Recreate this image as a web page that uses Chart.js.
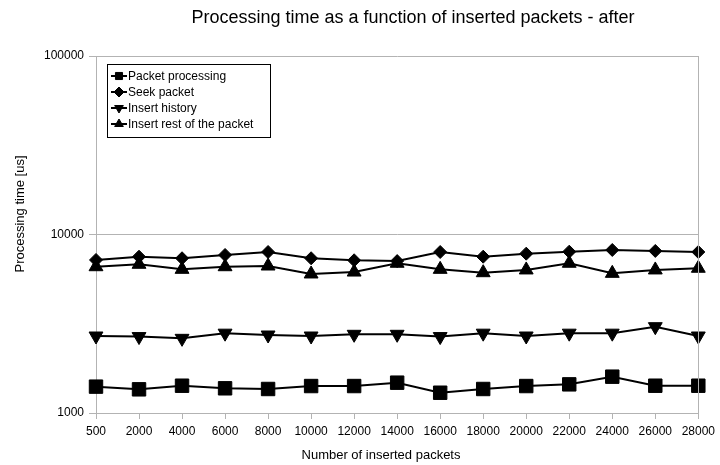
<!DOCTYPE html>
<html>
<head>
<meta charset="utf-8">
<script src="https://cdn.jsdelivr.net/npm/chart.js@4.4.0/dist/chart.umd.min.js"></script>
<style>
  html, body { margin: 0; padding: 0; background: #fff; }
</style>
</head>
<body>
<canvas id="chart" width="720" height="465"></canvas>
<script>
// values (log scale, microseconds)
const packets = ["500", "2000", "4000", "6000", "8000", "10000", "12000", "14000",
                 "16000", "18000", "20000", "22000", "24000", "26000", "28000"];
const packetProcessing = [1405, 1357, 1422, 1375, 1363, 1416, 1416, 1479, 1299, 1363, 1416, 1447, 1598, 1422, 1422];
const seekPacket = [7200, 7510, 7360, 7680, 7980, 7360, 7170, 7100, 7980, 7510, 7810, 8010, 8190, 8090, 7980];
const insertHistory = [2700, 2680, 2620, 2800, 2735, 2700, 2760, 2760, 2680, 2800, 2700, 2800, 2800, 3045, 2700];
const insertRest = [6600, 6810, 6380, 6600, 6660, 6010, 6160, 6900, 6380, 6110, 6330, 6900, 6060, 6330, 6470];
const yTicks = [1000, 10000, 100000];

const titleText = "Processing time as a function of inserted packets - after";
const xTitle = "Number of inserted packets";
const yTitle = "Processing time [us]";
const FONT = "'Liberation Sans', Arial, sans-serif";

function series(label, data, style, radius, rotation) {
  return {
    label: label,
    data: data,
    borderColor: "#000",
    backgroundColor: "#000",
    borderWidth: 2,
    pointStyle: style,
    pointRadius: radius,
    pointRotation: rotation || 0,
    pointBorderWidth: 1,
    pointHoverRadius: radius,
    tension: 0,
    fill: false,
    legendRadius: 5,
  };
}

// titles, right frame line and the boxed legend
const decorations = {
  id: "decorations",
  afterDraw(chart) {
    const ctx = chart.ctx;
    const a = chart.chartArea;
    ctx.save();

    ctx.strokeStyle = "#b3b3b3";
    ctx.lineWidth = 1;
    ctx.beginPath();
    ctx.moveTo(Math.round(a.right) + 0.5, a.top);
    ctx.lineTo(Math.round(a.right) + 0.5, a.bottom);
    ctx.stroke();

    ctx.fillStyle = "#000";
    ctx.textAlign = "center";
    ctx.textBaseline = "middle";
    ctx.font = "18px " + FONT;
    ctx.fillText(titleText, 413, 18);
    ctx.font = "13px " + FONT;
    ctx.fillText(xTitle, 381, 455);
    ctx.translate(20, 214);
    ctx.rotate(-Math.PI / 2);
    ctx.fillText(yTitle, 0, 0);
    ctx.restore();

    // legend
    ctx.save();
    const bx = 107, by = 64, bw = 163, bh = 73;
    ctx.fillStyle = "#fff";
    ctx.fillRect(bx, by, bw, bh);
    ctx.strokeStyle = "#000";
    ctx.lineWidth = 1;
    ctx.strokeRect(bx + 0.5, by + 0.5, bw, bh);
    ctx.font = "12px " + FONT;
    ctx.textAlign = "left";
    ctx.textBaseline = "middle";
    chart.data.datasets.forEach((ds, i) => {
      const y = 76 + i * 16;
      ctx.strokeStyle = "#000";
      ctx.lineWidth = 2;
      ctx.beginPath();
      ctx.moveTo(111, y);
      ctx.lineTo(127, y);
      ctx.stroke();
      ctx.fillStyle = "#000";
      ctx.lineWidth = 1;
      Chart.helpers.drawPoint(ctx, {
        pointStyle: ds.pointStyle,
        radius: ds.legendRadius,
        rotation: ds.pointRotation,
        borderWidth: 1,
      }, 119, y);
      ctx.fillStyle = "#000";
      ctx.fillText(ds.label, 128, y + 1);
    });
    ctx.restore();
  },
};

new Chart(document.getElementById("chart"), {
  type: "line",
  data: {
    labels: packets,
    datasets: [
      series("Packet processing", packetProcessing, "rect", 9.5),
      series("Seek packet", seekPacket, "rectRot", 6.5),
      series("Insert history", insertHistory, "triangle", 8, 180),
      series("Insert rest of the packet", insertRest, "triangle", 8),
    ],
  },
  options: {
    responsive: false,
    animation: false,
    events: [],
    layout: { padding: { top: 56, right: 17, left: 0, bottom: 0 } },
    plugins: {
      legend: { display: false },
      title: { display: false },
      tooltip: { enabled: false },
    },
    scales: {
      x: {
        type: "category",
        offset: false,
        afterFit: (scale) => { scale.height = 52; },
        grid: {
          drawOnChartArea: false,
          drawTicks: true,
          tickLength: 6,
          color: "#b3b3b3",
        },
        border: { color: "#b3b3b3" },
        ticks: {
          autoSkip: false,
          maxRotation: 0,
          padding: 5,
          color: "#000",
          font: { family: FONT, size: 12 },
        },
      },
      y: {
        type: "logarithmic",
        min: 1000,
        max: 100000,
        afterFit: (scale) => { scale.width = 96; },
        afterBuildTicks: (scale) => { scale.ticks = yTicks.map((v) => ({ value: v, major: true })); },
        grid: {
          color: "#b3b3b3",
          tickLength: 7,
        },
        border: { color: "#b3b3b3" },
        ticks: {
          padding: 5,
          color: "#000",
          font: { family: FONT, size: 12 },
          callback: (v) => String(v),
        },
      },
    },
  },
  plugins: [decorations],
});
</script>
</body>
</html>
